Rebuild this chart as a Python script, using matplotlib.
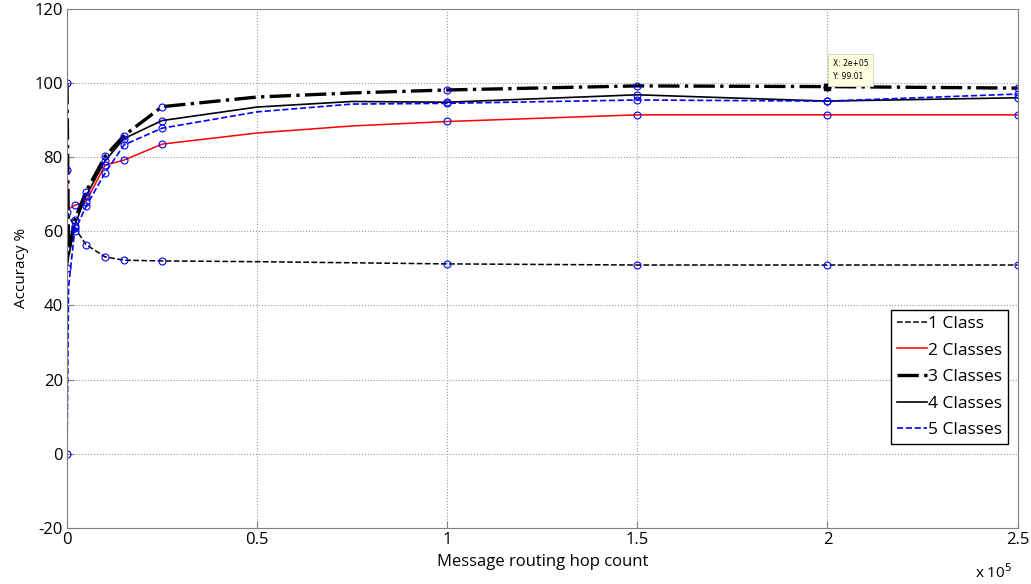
import matplotlib
matplotlib.use("Agg")
import matplotlib.pyplot as plt
from matplotlib.ticker import FuncFormatter

plt.rcParams['font.family'] = ['Open Sans', 'DejaVu Sans']
plt.rcParams['axes.unicode_minus'] = False

# hop count samples (markers drawn on all but the 50k / 75k read-off points)
hops = [0, 400, 2000, 5000, 10000, 15000, 25000, 50000, 75000, 100000, 150000, 200000, 250000]
marked = [0, 2, 3, 4, 5, 6, 9, 10, 11, 12]

acc_1 = [65.2, 64.5, 61.0, 56.4, 53.1, 52.2, 52.0, 51.8, 51.5, 51.2, 50.9, 50.9, 50.9]
acc_2 = [76.6, 66.0, 67.0, 68.0, 77.8, 79.2, 83.5, 86.5, 88.4, 89.6, 91.4, 91.4, 91.4]
acc_3 = [100.0, 54.0, 63.0, 70.7, 80.2, 85.8, 93.6, 96.2, 97.3, 98.1, 99.2, 99.01, 98.6]
acc_4 = [50.0, 53.0, 61.5, 69.5, 79.0, 85.0, 89.85, 93.5, 95.0, 94.8, 96.8, 95.1, 96.0]
acc_5 = [0.0, 45.0, 60.0, 66.7, 75.7, 83.3, 87.8, 92.2, 94.3, 94.5, 95.4, 95.1, 97.0]

series = [
    ("1 Class", acc_1, dict(color="black", linestyle="--", linewidth=1.1)),
    ("2 Classes", acc_2, dict(color="red", linestyle="-", linewidth=1.1)),
    ("3 Classes", acc_3, dict(color="black", linestyle="-.", linewidth=2.4)),
    ("4 Classes", acc_4, dict(color="black", linestyle="-", linewidth=1.2)),
    ("5 Classes", acc_5, dict(color="blue", linestyle="--", linewidth=1.2)),
]

fig = plt.figure(figsize=(10.31, 5.84), dpi=100)
ax = fig.add_axes([0.065, 0.096, 0.922, 0.889])

for label, vals, style in series:
    ax.plot(hops, vals, label=label, **style)

for label, vals, style in series:
    ax.plot([hops[i] for i in marked], [vals[i] for i in marked], linestyle="none",
            marker="o", markersize=5, markerfacecolor="none",
            markeredgecolor="blue", markeredgewidth=0.8)

# data tip
ax.plot([hops[11]], [acc_3[11]], marker="s", color="black", markersize=5, linestyle="none")
ax.annotate("X: 2e+05\nY: 99.01", xy=(hops[11], acc_3[11]), xytext=(4, 4),
            textcoords="offset points", ha="left", va="bottom", fontsize=5.5,
            family="DejaVu Sans", linespacing=1.6,
            bbox=dict(boxstyle="square,pad=0.6", facecolor="#ffffe1", edgecolor="#d0d0b8", linewidth=0.6))

ax.set_xlim(0, 250000)
ax.set_ylim(-20, 120)
ax.set_xticks([0, 50000, 100000, 150000, 200000, 250000])
ax.set_yticks(range(-20, 121, 20))
ax.xaxis.set_major_formatter(FuncFormatter(lambda v, p: "%g" % (v / 1e5)))
ax.grid(True, linestyle=":", color="#999999", linewidth=0.8)
ax.tick_params(direction="in", length=5, color="#808080", labelsize=12, pad=3)
for s in ax.spines.values():
    s.set_color("#808080")

ax.set_xlabel("Message routing hop count", fontsize=12, labelpad=4)
ax.set_ylabel("Accuracy %", fontsize=11, labelpad=4)
fig.text(0.946, 0.01, r"x 10$^5$", fontsize=11)

leg = ax.legend(loc="upper right", bbox_to_anchor=(0.9995, 0.437), fontsize=12.5,
                fancybox=False, edgecolor="black", framealpha=1,
                handlelength=1.7, handletextpad=0.1, labelspacing=0.6, borderpad=0.35)
leg.get_frame().set_linewidth(1.0)

fig.savefig("out.png", dpi=100)
